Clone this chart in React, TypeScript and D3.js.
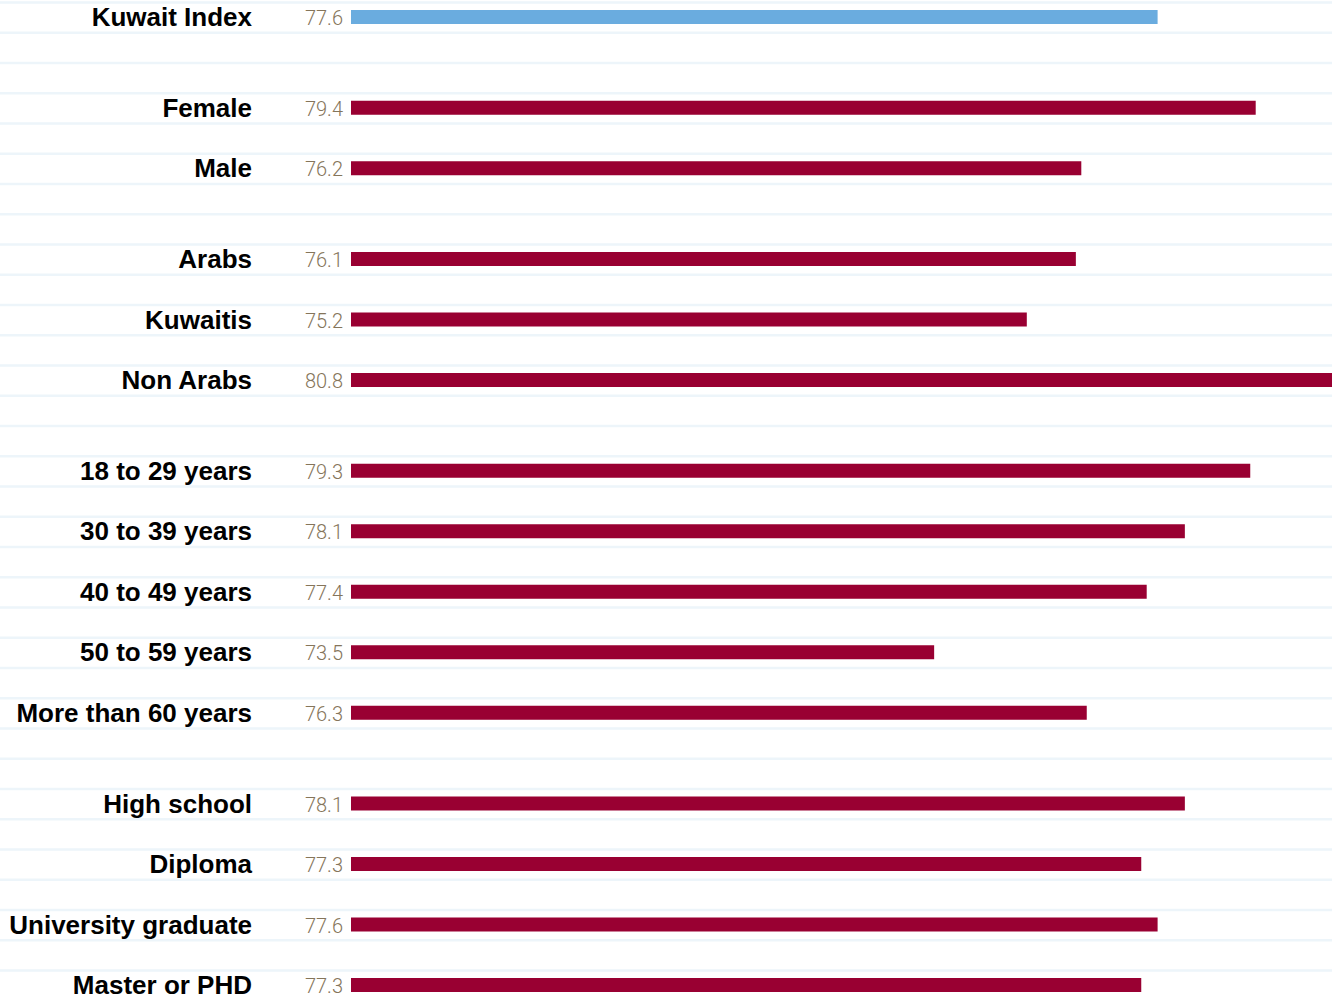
import React from "react";
import * as d3 from "d3";

const categories = [
  "Kuwait Index",
  "Female", "Male",
  "Arabs", "Kuwaitis", "Non Arabs",
  "18 to 29 years", "30 to 39 years", "40 to 49 years", "50 to 59 years", "More than 60 years",
  "High school", "Diploma", "University graduate", "Master or PHD",
];
const values = [77.6, 79.4, 76.2, 76.1, 75.2, 80.8, 79.3, 78.1, 77.4, 73.5, 76.3, 78.1, 77.3, 77.6, 77.3];
const groups = [0, 1, 1, 2, 2, 2, 3, 3, 3, 3, 3, 4, 4, 4, 4];
const valueLabels = ["77.6", "79.4", "76.2", "76.1", "75.2", "80.8", "79.3", "78.1", "77.4", "73.5", "76.3", "78.1", "77.3", "77.6", "77.3"];

const W = 1332;
const H = 999;

export default function App() {
  const slots: number[] = [];
  let s = 0;
  categories.forEach((_, i) => {
    if (i > 0 && groups[i] !== groups[i - 1]) s += 1;
    slots.push(s);
    s += 2;
  });
  const nSlots = s + 1;
  const y = d3.scaleLinear().domain([0, 1]).range([2.5, 2.5 + 30.25]);
  const x = d3.scaleLinear().domain([62.8, 80.8]).range([351, 1332]);
  const gridLines = d3.range(0, nSlots + 1);
  const barH = 14;

  return (
    <svg width={W} height={H} style={{ position: "absolute", left: 0, top: 0, display: "block" }}>
      <rect x={0} y={0} width={W} height={H} fill="#ffffff" />
      {gridLines.map((g) => (
        <line key={g} x1={0} x2={W} y1={y(g)} y2={y(g)} stroke="#edf5fa" strokeWidth={2.5} />
      ))}
      {categories.map((c, i) => {
        const cy = y(slots[i]) + 14.5;
        return (
          <g key={c}>
            <text
              x={252}
              y={cy + 9}
              textAnchor="end"
              fontFamily="'Liberation Sans', Arial, sans-serif"
              fontWeight={700}
              fontSize={26}
              fill="#000"
            >
              {c}
            </text>
            <text
              x={343}
              y={cy + 8}
              textAnchor="end"
              fontFamily="Roboto, 'Liberation Sans', sans-serif"
              fontWeight={300}
              fontSize={20}
              fill="#85755a"
            >
              {valueLabels[i]}
            </text>
            <rect
              x={x.range()[0]}
              y={cy - barH / 2}
              width={Math.max(0, x(values[i]) - x.range()[0])}
              height={barH}
              fill={i === 0 ? "#6aacdf" : "#990032"}
            />
          </g>
        );
      })}
    </svg>
  );
}
